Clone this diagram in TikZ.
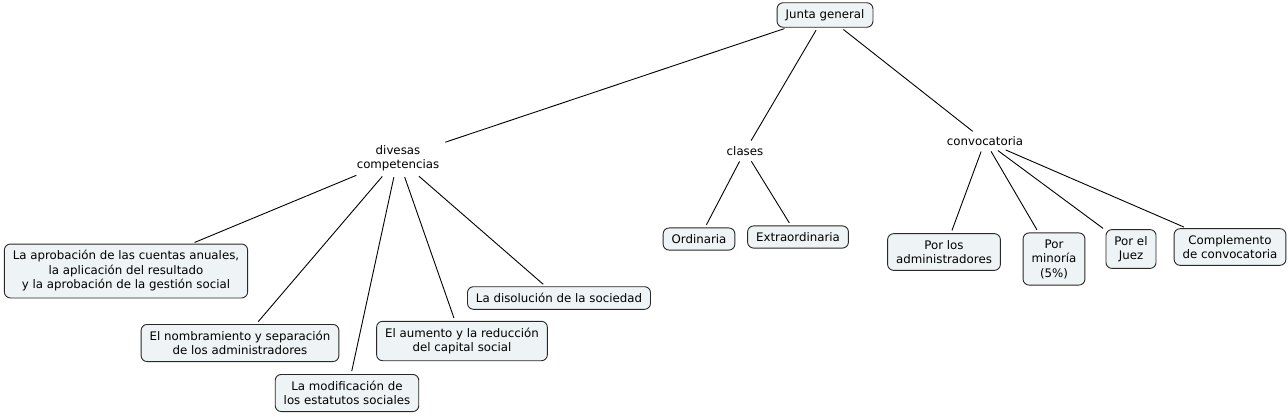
\documentclass[tikz,border=0pt]{standalone}
\usepackage{fontspec}
\setmainfont{DejaVu Sans}
\definecolor{boxfill}{RGB}{238,243,245}
\definecolor{boxline}{RGB}{40,40,40}
\begin{document}
\begin{tikzpicture}[x=1pt,y=-1pt,
  every node/.style={font=\fontsize{11.8}{14.5}\selectfont, align=center},
  cbox/.style={draw=boxline, fill=boxfill, rounded corners=6pt, line width=0.9pt, inner xsep=8.5pt, inner ysep=6.5pt},
  ctext/.style={inner sep=3pt},
  link/.style={draw=black, line width=0.9pt, shorten <=3pt, shorten >=3pt}]
\useasboundingbox (0,0) rectangle (1288,416);
\node[cbox] (jg) at (825,15) {Junta general};
\node[ctext] (dc) at (398,158) {divesas\\competencias};
\node[ctext] (cl) at (745,151) {clases};
\node[ctext] (cv) at (985,141) {convocatoria};
\node[cbox] (b1) at (126,271) {La aprobación de las cuentas anuales,\\la aplicación del resultado\\y la aprobación de la gestión social};
\node[cbox] (b2) at (240,343) {El nombramiento y separación\\de los administradores};
\node[cbox] (b3) at (347,393) {La modificación de\\los estatutos sociales};
\node[cbox] (b4) at (462,341) {El aumento y la reducción\\del capital social};
\node[cbox] (b5) at (559,298) {La disolución de la sociedad};
\node[cbox] (or) at (699,239) {Ordinaria};
\node[cbox] (ex) at (798,237) {Extraordinaria};
\node[cbox] (pa) at (944,252) {Por los\\administradores};
\node[cbox] (pm) at (1054,259) {Por\\minoría\\(5\%)};
\node[cbox] (pj) at (1131,249) {Por el\\Juez};
\node[cbox] (co) at (1230,247) {Complemento\\de convocatoria};
\draw[link] (jg) -- (dc);
\draw[link] (jg) -- (cl);
\draw[link] (jg) -- (cv);
\draw[link] (dc) -- (b1);
\draw[link] (dc) -- (b2);
\draw[link] (dc) -- (b3);
\draw[link] (dc) -- (b4);
\draw[link] (dc) -- (b5);
\draw[link] (cl) -- (or);
\draw[link] (cl) -- (ex);
\draw[link] (cv) -- (pa);
\draw[link] (cv) -- (pm);
\draw[link] (cv) -- (pj);
\draw[link] (cv) -- (co);
\end{tikzpicture}
\end{document}
